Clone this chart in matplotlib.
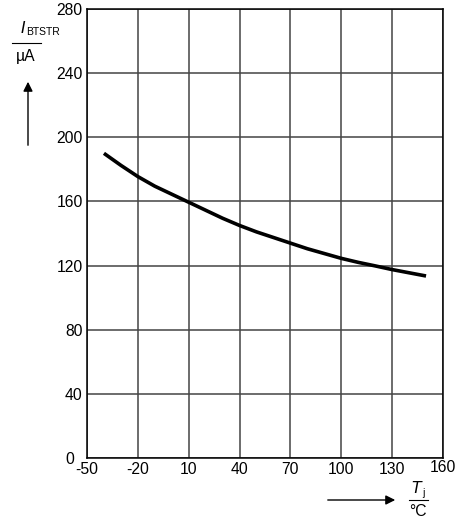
import matplotlib

matplotlib.use("Agg")
import matplotlib.pyplot as plt  # noqa: E402

plt.rcParams["font.family"] = ["Liberation Sans", "DejaVu Sans"]

# junction temperature (degC) vs bootstrap current (uA)
temp_c = [-40, -30, -20, -10, 0, 10, 20, 30, 40, 50, 60, 70, 80,
          90, 100, 110, 120, 130, 140, 150]
i_btstr = [190, 182.5, 175.5, 169.5, 164.5, 159.5, 154.5, 149.5, 145, 141,
           137.5, 134, 130.5, 127.5, 124.5, 122, 119.8, 117.5, 115.5, 113.5]

x_ticks = [-50, -20, 10, 40, 70, 100, 130, 160]
y_ticks = [0, 40, 80, 120, 160, 200, 240, 280]

FS = 11.3
W, H = 457, 523
fig = plt.figure(figsize=(W / 100, H / 100), dpi=100)
ax = fig.add_axes([87 / W, 1 - 458 / H, (443 - 87) / W, (458 - 9) / H])

ax.plot(temp_c, i_btstr, color="black", lw=2.6, solid_capstyle="butt")

ax.set_xlim(-50, 160)
ax.set_ylim(0, 280)
ax.set_xticks(x_ticks)
ax.set_yticks(y_ticks)
# the 160 and 0 labels are placed by hand below, as in the reference
ax.set_xticklabels(["" if t == 160 else str(t) for t in x_ticks])
ax.set_yticklabels(["" if t == 0 else str(t) for t in y_ticks])
ax.grid(True, color="#444444", lw=1.1)
ax.tick_params(length=0, labelsize=FS)
ax.tick_params(axis="x", pad=3)
ax.tick_params(axis="y", pad=3)
for s in ax.spines.values():
    s.set_color("black")
    s.set_linewidth(1.1)

fig.text(443 / W, 1 - 468 / H, "160", ha="center", va="center", fontsize=FS)
fig.text(74 / W, 1 - 459 / H, "0", ha="right", va="center", fontsize=FS)

# y-axis label block
fig.text(26 / W, 1 - 28 / H, r"$I$", ha="right", va="center", fontsize=FS)
fig.text(26 / W, 1 - 32 / H, "BTSTR", ha="left", va="center", fontsize=7.5)
fig.add_artist(plt.Line2D([12 / W, 41 / W], [1 - 43 / H, 1 - 43 / H],
                          color="black", lw=0.8))
fig.text(26 / W, 1 - 57 / H, "µA", ha="center", va="center", fontsize=FS)
fig.add_artist(matplotlib.patches.FancyArrowPatch(
    (28 / W, 1 - 148 / H), (28 / W, 1 - 79 / H), transform=fig.transFigure,
    arrowstyle="-|>", mutation_scale=14, color="black", lw=1.0))

# x-axis label block
fig.text(417 / W, 1 - 488 / H, r"$T$", ha="center", va="center", fontsize=FS)
fig.text(422 / W, 1 - 493 / H, "j", ha="left", va="center", fontsize=7.5)
fig.add_artist(plt.Line2D([409 / W, 428 / W], [1 - 500 / H, 1 - 500 / H],
                          color="black", lw=0.8))
fig.text(418 / W, 1 - 512 / H, "°C", ha="center", va="center", fontsize=FS)
fig.add_artist(matplotlib.patches.FancyArrowPatch(
    (325 / W, 1 - 500 / H), (398 / W, 1 - 500 / H), transform=fig.transFigure,
    arrowstyle="-|>", mutation_scale=14, color="black", lw=1.0))

fig.savefig("out.png", dpi=100)
